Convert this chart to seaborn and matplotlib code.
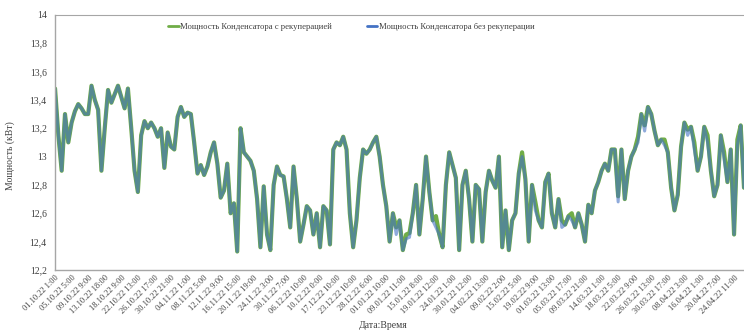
import numpy as np
import pandas as pd
import matplotlib
matplotlib.use("Agg")
import matplotlib.pyplot as plt
import seaborn as sns
from matplotlib.ticker import FuncFormatter

# one sample every 20 hours, tick label every 100 hours
STEP = 20

tick_labels = [
    "01.10.22 1:00", "05.10.22 5:00", "09.10.22 9:00", "13.10.22 18:00",
    "18.10.22 9:00", "22.10.22 13:00", "26.10.22 17:00", "30.10.22 21:00",
    "04.11.22 1:00", "08.11.22 5:00", "12.11.22 9:00", "16.11.22 15:00",
    "20.11.22 19:00", "24.11.22 3:00", "30.11.22 7:00", "06.12.22 10:00",
    "10.12.22 0:00", "17.12.22 10:00", "23.12.22 10:00", "28.12.22 6:00",
    "01.01.22 10:00", "09.01.22 11:00", "15.01.22 8:00", "19.01.22 12:00",
    "24.01.22 1:00", "30.01.22 12:00", "04.02.22 13:00", "09.02.22 2:00",
    "15.02.22 5:00", "19.02.22 9:00", "01.03.22 13:00", "05.03.22 17:00",
    "09.03.22 21:00", "14.03.22 1:00", "18.03.22 5:00", "22.03.22 9:00",
    "26.03.22 13:00", "30.03.22 17:00", "08.04.22 3:00", "16.04.22 1:00",
    "20.04.22 7:00", "24.04.22 11:00",
]

# power with heat recovery, kW
power_recup = [
    13.48, 13.15, 12.90, 13.30, 13.10, 13.24, 13.32, 13.37, 13.34, 13.30,
    13.30, 13.50, 13.40, 13.33, 12.90, 13.20, 13.47, 13.38, 13.44, 13.50,
    13.42, 13.34, 13.48, 13.20, 12.90, 12.75, 13.15, 13.25, 13.20, 13.24,
    13.20, 13.14, 13.20, 12.92, 13.17, 13.07, 13.05, 13.28, 13.35, 13.28,
    13.31, 13.30, 13.10, 12.88, 12.94, 12.87, 12.93, 13.03, 13.10, 12.95,
    12.71, 12.76, 12.95, 12.60, 12.67, 12.33, 13.20, 13.03, 13.00, 12.97,
    12.90, 12.70, 12.36, 12.79, 12.45, 12.34, 12.80, 12.93, 12.87, 12.86,
    12.70, 12.50, 12.93, 12.70, 12.40, 12.52, 12.65, 12.62, 12.45, 12.60,
    12.36, 12.65, 12.62, 12.38, 13.05, 13.10, 13.08, 13.14, 13.05, 12.60,
    12.36, 12.55, 12.85, 13.05, 13.02, 13.05, 13.10, 13.14, 13.00, 12.80,
    12.65, 12.40, 12.60, 12.50, 12.55, 12.34, 12.45, 12.46, 12.60, 12.80,
    12.45, 12.70, 13.00, 12.75, 12.55, 12.58, 12.45, 12.36, 12.80, 13.03,
    12.94, 12.85, 12.34, 12.80, 12.90, 12.70, 12.40, 12.80, 12.77, 12.40,
    12.75, 12.90, 12.83, 12.78, 13.00, 12.36, 12.62, 12.34, 12.55, 12.60,
    12.88, 13.03, 12.84, 12.40, 12.80, 12.68, 12.55, 12.50, 12.82, 12.88,
    12.60, 12.50, 12.70, 12.55, 12.52, 12.58, 12.60, 12.50, 12.60, 12.52,
    12.40, 12.66, 12.60, 12.76, 12.82, 12.90, 12.95, 12.90, 13.05, 13.05,
    12.72, 13.05, 12.70, 12.90, 13.00, 13.05, 13.14, 13.30, 13.22, 13.35,
    13.30, 13.18, 13.08, 13.12, 13.12, 13.03, 12.78, 12.62, 12.73, 13.07,
    13.24, 13.19, 13.21, 13.10, 12.90, 13.00, 13.21, 13.15, 12.90, 12.72,
    12.80, 13.15, 13.03, 12.82, 13.05, 12.45, 13.12, 13.22, 12.78,
]

# without heat recovery: same curve except where the blue line shows through
power_no_recup = list(power_recup)
blue_diff = {
    103: 12.45, 106: 12.42, 107: 12.43, 115: 12.50, 141: 13.00, 145: 12.62,
    153: 12.50, 156: 12.55, 170: 12.68, 176: 13.10, 178: 13.18, 184: 13.08,
    191: 13.15, 193: 13.05, 197: 13.10, 202: 12.98, 206: 13.08,
}
for i, v in blue_diff.items():
    power_no_recup[i] = v

hours = np.arange(len(power_recup)) * STEP

sns.set_style("white")
plt.rcParams["font.family"] = ["Liberation Serif", "DejaVu Serif"]

fig = plt.figure(figsize=(7.44, 3.30), dpi=100)
ax = fig.add_axes([0.074, 0.182, 0.926, 0.773])

sns.lineplot(x=hours, y=power_recup, ax=ax, color="#70AD47", lw=3.0,
             label="Мощность Конденсатора с рекуперацией")
sns.lineplot(x=hours, y=power_no_recup, ax=ax, color="#4472C4", lw=2.2, alpha=0.6,
             label="Мощность Конденсатора без рекуперации")

ax.set_ylim(12.2, 14.0)
ax.set_yticks(np.arange(12.2, 14.01, 0.2))
ax.yaxis.set_major_formatter(FuncFormatter(lambda v, p: f"{v:.1f}".replace(".", ",").replace(",0", "")))
ax.set_xlim(0, hours[-1])
ax.set_xticks(np.arange(len(tick_labels)) * 100)
ax.set_xticklabels(tick_labels, rotation=45, ha="right", rotation_mode="anchor")
ax.tick_params(axis="x", labelsize=6, colors="#404040", length=0, pad=3)
ax.tick_params(axis="y", labelsize=7, colors="#404040", length=0, pad=6)

for side in ["left", "bottom"]:
    ax.spines[side].set_color("#a6a6a6")
    ax.spines[side].set_linewidth(1.0)
ax.spines["top"].set_color("#a6a6a6")
ax.spines["top"].set_linestyle((0, (1, 1)))
ax.spines["right"].set_visible(False)

ax.set_xlabel("Дата:Время", fontsize=7, color="#404040")
ax.set_ylabel("Мощность (кВт)", fontsize=7, color="#404040")
ax.xaxis.set_label_coords(0.476, -0.2)
ax.yaxis.set_label_coords(-0.058, 0.45)

leg = ax.legend(loc="upper center", bbox_to_anchor=(0.43, 1.0), ncol=2, frameon=False,
                fontsize=6.2, handlelength=1.2, handletextpad=0.2, columnspacing=4.0)
for t in leg.get_texts():
    t.set_color("#404040")
for h in leg.get_lines():
    h.set_linewidth(2)
    h.set_alpha(1)

fig.savefig("out.png", dpi=100)
